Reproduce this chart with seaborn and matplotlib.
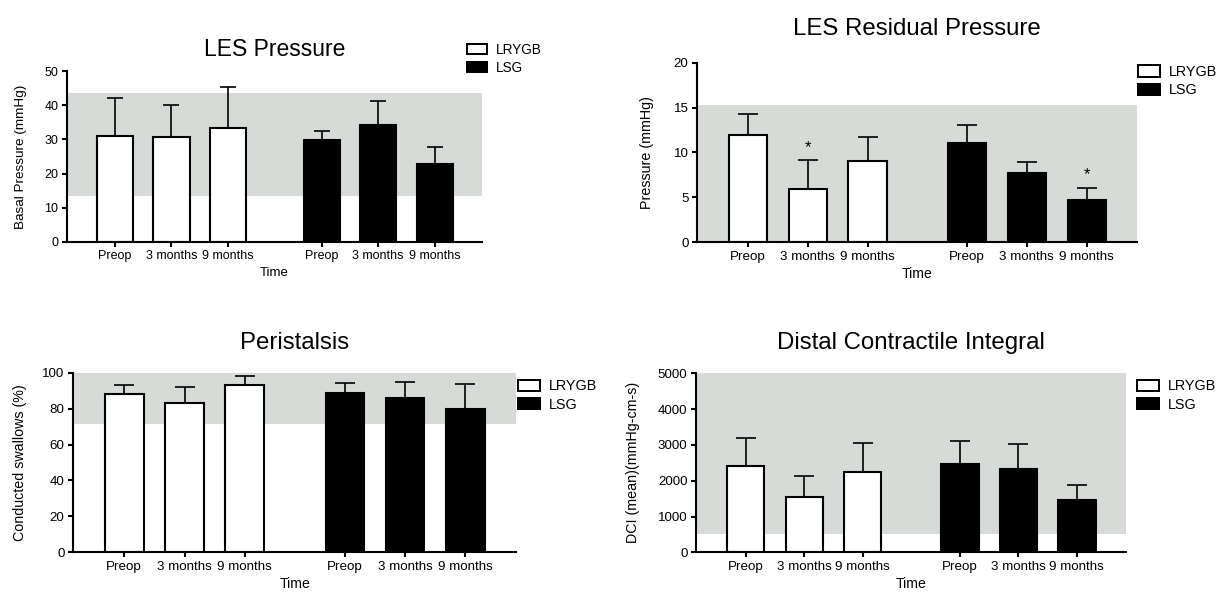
import numpy as np
import pandas as pd
import matplotlib
matplotlib.use("Agg")
import matplotlib.pyplot as plt
from matplotlib.patches import Patch
import seaborn as sns

# ---- data -------------------------------------------------------------
timepoints = ["Preop", "3 months", "9 months"]
groups = ["LRYGB", "LSG"]

les_lrygb = [31.1, 30.8, 33.3]
les_lrygb_sd = [10.9, 9.4, 12.1]
les_lsg = [29.9, 34.1, 22.8]
les_lsg_sd = [2.7, 7.1, 5.0]
les_normal = (13.5, 43.5)

irp_lrygb = [11.95, 5.95, 9.1]
irp_lrygb_sd = [2.35, 3.2, 2.65]
irp_lsg = [11.1, 7.7, 4.75]
irp_lsg_sd = [1.95, 1.25, 1.33]
irp_normal = (0, 15.25)
irp_significant = [("LRYGB", "3 months"), ("LSG", "9 months")]

per_lrygb = [88.0, 83.3, 93.1]
per_lrygb_sd = [5.0, 9.0, 5.0]
per_lsg = [88.8, 85.8, 80.0]
per_lsg_sd = [5.6, 9.3, 13.7]
per_normal = (71.7, 100)

dci_lrygb = [2420, 1540, 2255]
dci_lrygb_sd = [764, 601, 799]
dci_lsg = [2467, 2318, 1462]
dci_lsg_sd = [652, 708, 419]
dci_normal = (500, 5000)

# ---- styling ----------------------------------------------------------
sns.set_theme(style="ticks")
plt.rcParams["font.family"] = ["Liberation Sans", "DejaVu Sans"]
plt.rcParams.update({
    "axes.linewidth": 1.5,
    "axes.edgecolor": "black",
    "axes.labelcolor": "black",
    "text.color": "black",
    "xtick.color": "black",
    "ytick.color": "black",
})

W, H = 1219, 592
BAND = "#D6DBD8"
SLOTS = [0, 1, 2, 3.66, 4.66, 5.66]
FILL = {"LRYGB": "white", "LSG": "black"}

fig = plt.figure(figsize=(W / 100, H / 100), dpi=100)


def px_rect(left, top, right, bottom):
    return [left / W, 1 - bottom / H, (right - left) / W, (bottom - top) / H]


def panel(rect, title, ylabel, lrygb, lrygb_sd, lsg, lsg_sd, normal,
          yticks, legend_at, fs, title_fs, title_pad, ylabel_x,
          capsize=7, significant=()):
    ax = fig.add_axes(px_rect(*rect))
    df = pd.DataFrame({
        "pos": SLOTS,
        "value": lrygb + lsg,
        "sd": lrygb_sd + lsg_sd,
        "group": [g for g in groups for _ in timepoints],
        "time": timepoints * 2,
    })
    ax.axhspan(*normal, color=BAND, lw=0, zorder=0)
    sns.barplot(data=df, x="pos", y="value", hue="group", palette=FILL,
                native_scale=True, dodge=False, width=0.64,
                edgecolor="black", linewidth=1.5, saturation=1,
                errorbar=None, legend=False, ax=ax)
    ax.errorbar(df["pos"], df["value"],
                yerr=[np.zeros(len(df)), df["sd"]], fmt="none",
                ecolor="black", elinewidth=1.2, capsize=capsize,
                capthick=1.2, zorder=3)
    for grp, tp in significant:
        row = df[(df["group"] == grp) & (df["time"] == tp)].iloc[0]
        ax.annotate("*", xy=(row["pos"], row["value"] + row["sd"]),
                    xytext=(0, 6), textcoords="offset points",
                    ha="center", va="baseline", fontsize=12)

    ax.set_xlim(-0.85, 6.5)
    ax.set_ylim(yticks[0], yticks[-1])
    ax.set_yticks(yticks)
    ax.set_xticks(SLOTS, labels=timepoints * 2)
    sns.despine(ax=ax)
    ax.tick_params(direction="out", length=3.6, width=1.5,
                   labelsize=fs, pad=2.5, colors="black")
    ax.set_xlabel("Time", fontsize=fs + 0.5, labelpad=3)
    ax.set_ylabel(ylabel, fontsize=fs + 0.7)
    ax.yaxis.set_label_coords(ylabel_x, 0.5)
    ax.set_title(title, fontsize=title_fs, pad=title_pad)

    handles = [Patch(facecolor=FILL[g], edgecolor="black", linewidth=1.45,
                     label=g) for g in groups]
    hx, hy = legend_at
    ax.legend(handles=handles, loc="upper left",
              bbox_to_anchor=(hx / W, 1 - hy / H),
              bbox_transform=fig.transFigure, frameon=False,
              borderpad=0, borderaxespad=0, fontsize=fs + 0.8,
              handlelength=1.5, handleheight=0.8, handletextpad=0.62,
              labelspacing=0.3)
    return ax


panel((67, 71, 482, 242), "LES Pressure", "Basal Pressure (mmHg)",
      les_lrygb, les_lrygb_sd, les_lsg, les_lsg_sd, les_normal,
      [0, 10, 20, 30, 40, 50], (467, 42.5), fs=9, title_fs=16.5,
      title_pad=10.6, ylabel_x=-0.097, capsize=6)

panel((697, 62.7, 1137, 242.3), "LES Residual Pressure", "Pressure (mmHg)",
      irp_lrygb, irp_lrygb_sd, irp_lsg, irp_lsg_sd, irp_normal,
      [0, 5, 10, 15, 20], (1138, 65), fs=9.6, title_fs=17.3,
      title_pad=19.7, ylabel_x=-0.098, significant=irp_significant)

panel((73, 372.7, 516, 552.3), "Peristalsis", "Conducted swallows (%)",
      per_lrygb, per_lrygb_sd, per_lsg, per_lsg_sd, per_normal,
      [0, 20, 40, 60, 80, 100], (518, 379.5), fs=9.6, title_fs=17.3,
      title_pad=16.8, ylabel_x=-0.104)

panel((696, 373.3, 1126, 552.3), "Distal Contractile Integral",
      "DCI (mean)(mmHg-cm-s)",
      dci_lrygb, dci_lrygb_sd, dci_lsg, dci_lsg_sd, dci_normal,
      [0, 1000, 2000, 3000, 4000, 5000], (1137, 379.5), fs=9.6,
      title_fs=17.3, title_pad=17.7, ylabel_x=-0.130)

fig.savefig("out.png", dpi=100, facecolor="white")
